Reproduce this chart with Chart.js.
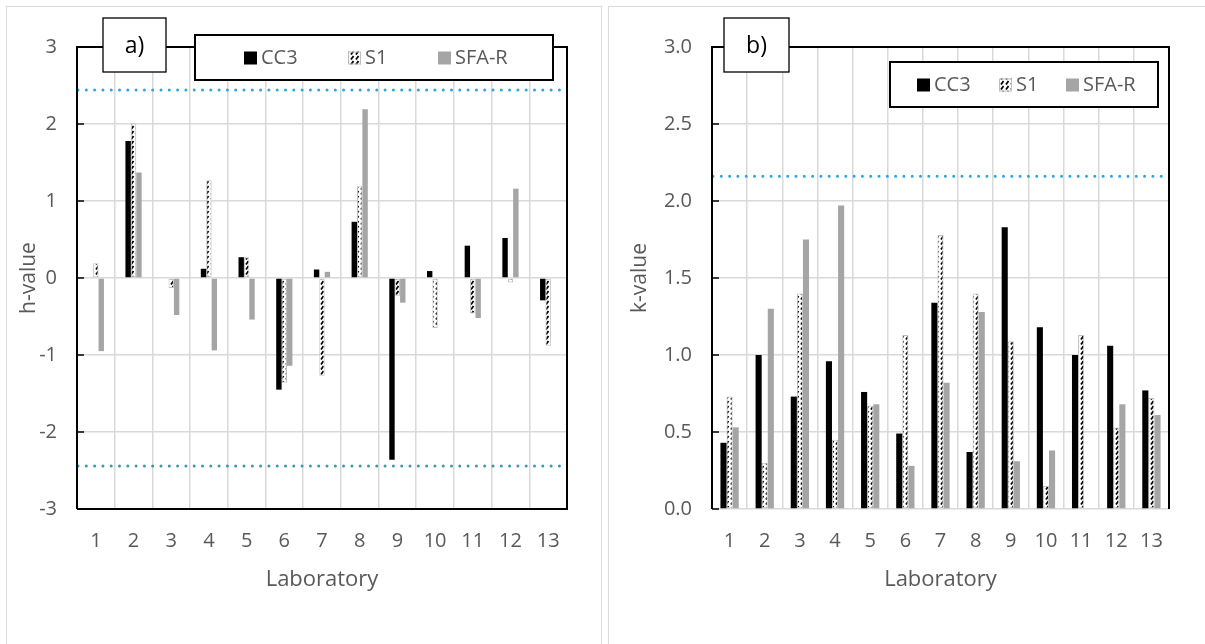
<!DOCTYPE html>
<html>
<head>
<meta charset="utf-8">
<script src="https://cdn.jsdelivr.net/npm/chart.js@4/dist/chart.umd.min.js"></script>
<style>
  body { margin: 0; background: #fff; width: 1205px; height: 644px; overflow: hidden; position: relative; }
  .panel { position: absolute; border: 1.5px solid #d9d9d9; box-sizing: border-box; }
  canvas { position: absolute; }
</style>
</head>
<body>
<div class="panel" style="left:6px; top:6px; width:596px; height:660px;"></div>
<div class="panel" style="left:608px; top:6px; width:610px; height:660px;"></div>
<canvas id="chart-h" style="left:0; top:0;"></canvas>
<canvas id="chart-k" style="left:605px; top:0;"></canvas>
<script>

  // data
  var labs = ['1', '2', '3', '4', '5', '6', '7', '8', '9', '10', '11', '12', '13'];
  var seriesNames = ['CC3', 'S1', 'SFA-R'];

  var h_cc3 = [0.01, 1.78, 0.0, 0.12, 0.27, -1.45, 0.11, 0.73, -2.36, 0.09, 0.42, 0.52, -0.29];
  var h_s1 = [0.19, 2.01, -0.13, 1.27, 0.27, -1.36, -1.27, 1.19, -0.23, -0.65, -0.46, -0.06, -0.88];
  var h_sfar = [-0.95, 1.37, -0.48, -0.94, -0.54, -1.14, 0.08, 2.19, -0.32, 0.01, -0.52, 1.16, -0.01];

  var k_cc3 = [0.43, 1.00, 0.73, 0.96, 0.76, 0.49, 1.34, 0.37, 1.83, 1.18, 1.00, 1.06, 0.77];
  var k_s1 = [0.73, 0.30, 1.40, 0.45, 0.67, 1.13, 1.78, 1.40, 1.09, 0.15, 1.13, 0.53, 0.72];
  var k_sfar = [0.53, 1.30, 1.75, 1.97, 0.68, 0.28, 0.82, 1.28, 0.31, 0.38, 0.0, 0.68, 0.61];

  var h_limit = 2.44;
  var k_limit = 2.16;

  var FONT = "'Open Sans', 'Noto Sans', sans-serif";
  var TXT = '#595959';

  function hatch() {
    var c = document.createElement('canvas');
    c.width = 5; c.height = 5;
    var g = c.getContext('2d');
    g.fillStyle = '#fff';
    g.fillRect(0, 0, 5, 5);
    g.strokeStyle = '#000';
    g.lineWidth = 1.8;
    g.beginPath();
    g.moveTo(1, 4.5); g.lineTo(3.5, 1);
    g.stroke();
    return g.createPattern(c, 'repeat');
  }
  var s1_fill = hatch();

  function datasets(a, b, c, pct) {
    var base = { borderWidth: 0, categoryPercentage: pct, barPercentage: 1.0 };
    return [
      Object.assign({ label: seriesNames[0], data: a, backgroundColor: '#000000' }, base),
      Object.assign({ label: seriesNames[1], data: b, backgroundColor: s1_fill }, base, { borderWidth: 1, borderColor: '#bfbfbf', borderSkipped: false }),
      Object.assign({ label: seriesNames[2], data: c, backgroundColor: '#a5a5a5' }, base)
    ];
  }

  // plugin: frame, inner ticks, limit lines, panel tag, legend box
  var decor = {
    id: 'decor',
    afterDatasetsDraw: function(chart, args, o) {
      var ctx = chart.ctx, a = chart.chartArea, y = chart.scales.y;
      ctx.save();
      // limit lines
      o.limits.forEach(function(l) {
        var py = y.getPixelForValue(l.v);
        ctx.strokeStyle = l.color;
        ctx.lineWidth = 3;
        ctx.lineCap = 'round';
        ctx.setLineDash([0, 8.3]);
        ctx.beginPath();
        ctx.moveTo(a.left + 1, py); ctx.lineTo(a.right, py);
        ctx.stroke();
      });
      ctx.setLineDash([]);
      ctx.lineCap = 'butt';
      // frame
      ctx.strokeStyle = '#000';
      ctx.lineWidth = 2;
      ctx.beginPath();
      ctx.moveTo(a.left, a.bottom); ctx.lineTo(a.left, a.top); ctx.lineTo(a.right, a.top); ctx.lineTo(a.right, a.bottom);
      if (o.closed) ctx.lineTo(a.left, a.bottom);
      ctx.stroke();
      // inner ticks
      ctx.lineWidth = 1.5;
      y.ticks.forEach(function(t) {
        var py = y.getPixelForValue(t.value);
        ctx.beginPath(); ctx.moveTo(a.left, py); ctx.lineTo(a.left + 7, py); ctx.stroke();
      });
      // tag box
      var tb = o.tag;
      ctx.fillStyle = '#fff';
      ctx.fillRect(tb.x, tb.y, tb.w, tb.h);
      ctx.lineWidth = 1.3;
      ctx.strokeRect(tb.x, tb.y, tb.w, tb.h);
      ctx.fillStyle = '#000';
      ctx.font = '23px ' + FONT;
      ctx.textAlign = 'center'; ctx.textBaseline = 'middle';
      ctx.fillText(tb.text, tb.x + tb.w / 2, tb.y + tb.h / 2 + 1);
      // legend box
      var lb = o.legend;
      ctx.fillStyle = '#fff';
      ctx.fillRect(lb.x, lb.y, lb.w, lb.h);
      ctx.lineWidth = 2;
      ctx.strokeRect(lb.x, lb.y, lb.w, lb.h);
      ctx.font = '20px ' + FONT;
      ctx.textAlign = 'left';
      var cy = lb.y + lb.h / 2;
      chart.data.datasets.forEach(function(ds, i) {
        var sx = lb.items[i];
        ctx.fillStyle = ds.backgroundColor;
        ctx.fillRect(sx, cy - 6, 13, 13);
        if (ds.borderWidth) {
          ctx.strokeStyle = '#bfbfbf'; ctx.lineWidth = 1;
          ctx.strokeRect(sx + 0.5, cy - 5.5, 12, 12);
        }
        ctx.fillStyle = TXT;
        ctx.fillText(ds.label, sx + 17, cy + 1);
      });
      ctx.restore();
    }
  };

  function makeConfig(sets, yOpts, yTitle, pad, yWidth, decorOpts) {
    return {
      type: 'bar',
      data: { labels: labs, datasets: sets },
      options: {
        responsive: false,
        animation: false,
        layout: { padding: pad },
        plugins: { legend: { display: false }, tooltip: { enabled: false }, decor: decorOpts },
        scales: {
          x: {
            grid: { color: '#d9d9d9', lineWidth: 1.5, drawTicks: false, offset: true },
            border: { display: false },
            ticks: { color: TXT, font: { family: FONT, size: 20 }, padding: 20 },
            title: { display: true, text: 'Laboratory', color: TXT, font: { family: FONT, size: 22 }, padding: { bottom: 51 } },
            afterFit: function(s) { s.height = 135; }
          },
          y: Object.assign({
            grid: { color: '#d9d9d9', lineWidth: 1.5, drawTicks: false },
            border: { display: false },
            title: { display: true, text: yTitle, color: TXT, font: { family: FONT, size: 21 }, padding: { top: decorOpts.titlePad } },
            afterFit: function(s) { s.width = yWidth; }
          }, yOpts)
        }
      },
      plugins: [decor]
    };
  }

  var hConfig = makeConfig(
    datasets(h_cc3, h_s1, h_sfar, 0.43),
    { min: -3, max: 3, ticks: { stepSize: 1, color: TXT, font: { family: FONT, size: 20 }, padding: 20 } },
    'h-value',
    { left: 0, right: 37, top: 47, bottom: 0 },
    77,
    {
      titlePad: 16,
      closed: true,
      limits: [{ v: h_limit, color: '#2ba6e0' }, { v: -h_limit, color: '#3f97ab' }],
      tag: { x: 103, y: 18, w: 63, h: 54, text: 'a)' },
      legend: { x: 195, y: 35, w: 358, h: 45, items: [244, 348, 438] }
    }
  );

  var kConfig = makeConfig(
    datasets(k_cc3, k_s1, k_sfar, 0.52),
    { min: 0, max: 3, ticks: { stepSize: 0.5, color: TXT, font: { family: FONT, size: 20 }, padding: 20,
      callback: function(v) { return v.toFixed(1); } } },
    'k-value',
    { left: 0, right: 36, top: 47, bottom: 0 },
    107,
    {
      titlePad: 22,
      closed: false,
      limits: [{ v: k_limit, color: '#2ba6e0' }],
      tag: { x: 119, y: 18, w: 65, h: 54, text: 'b)' },
      legend: { x: 285, y: 62, w: 268, h: 45, items: [312, 394, 461] }
    }
  );

  window.onload = function() {
    var hc = document.getElementById('chart-h');
    hc.width = 604; hc.height = 644;
    var kc = document.getElementById('chart-k');
    kc.width = 600; kc.height = 644;
    window.hChart = new Chart(hc.getContext('2d'), hConfig);
    window.kChart = new Chart(kc.getContext('2d'), kConfig);
  };

</script>
</body>
</html>
